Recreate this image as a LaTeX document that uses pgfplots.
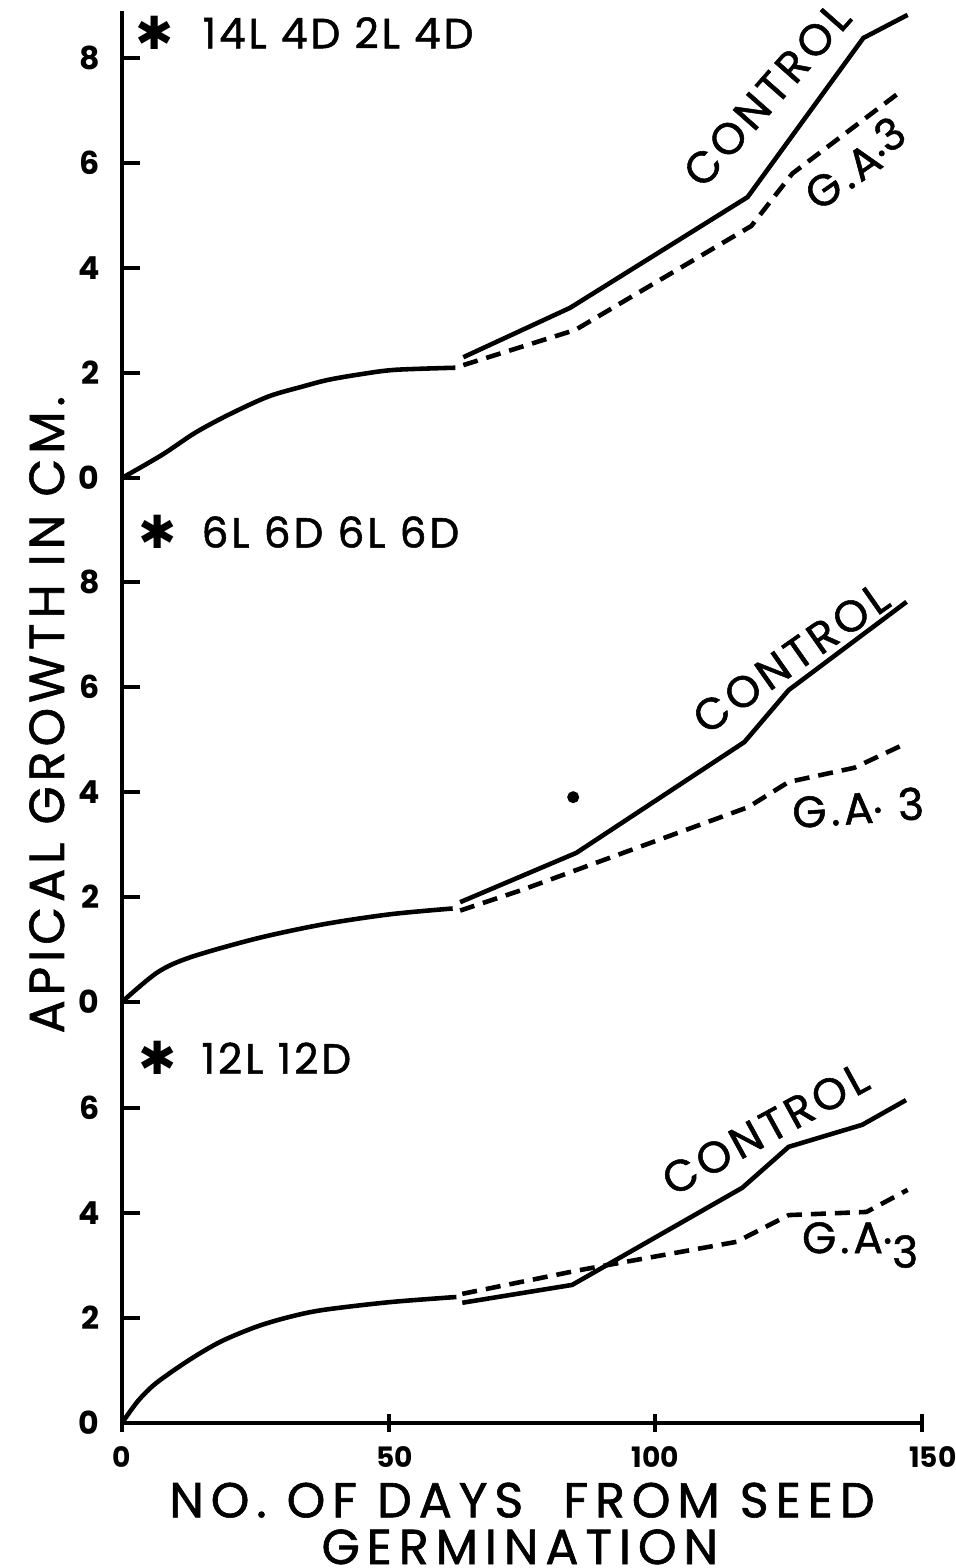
\documentclass[border=0pt]{standalone}
\usepackage{fontspec}
\setmainfont{Poppins}
\newfontfamily\lab{Poppins}[FakeBold=1.2]
\newfontfamily\dejavu{DejaVu Sans}
\usepackage{pgfplots}
\pgfplotsset{compat=1.18}

\pgfplotsset{
  panel/.style={
    x=0.53333mm, y=5.25mm,
    xmin=0, xmax=150,
    axis y line=left,
    clip=false,
    tick align=inside, major tick length=1.8mm,
    tick style={line width=1.2pt, black},
    /pgf/number format/assume math mode=true,
    yticklabel style={font=\fontsize{9}{10}\selectfont\bfseries, xshift=-1.0mm},
    xticklabel style={font=\fontsize{8}{9}\selectfont\bfseries, yshift=-0.2mm},
  },
}
\tikzset{
  ctrl/.style={black, line width=1.3pt},
  ga/.style={ctrl, dash pattern=on 1.5mm off 0.9mm},
  curvelab/.style={font=\lab\fontsize{12.5}{13}\selectfont\addfontfeatures{LetterSpace=9}},
  cond/.style={font=\lab\fontsize{12}{13}\selectfont\addfontfeatures{LetterSpace=7}, anchor=west, inner sep=0pt},
  star/.style={font=\dejavu\fontsize{13}{14}\selectfont},
  axlab/.style={inner sep=0pt, font=\lab\fontsize{14}{15}\selectfont\addfontfeatures{LetterSpace=#1}},
}

\begin{document}
\begin{tikzpicture}
\path[use as bounding box] (-12.2mm,-14.5mm) rectangle (83.4mm,142.3mm);

% bottom panel: 12L 12D
\begin{axis}[panel, at={(0,0)}, anchor=south west,
  ymin=0, ymax=8.02, ytick={0,2,4,6},
  axis x line=bottom, xtick={0,50,100,150},
  xticklabels={0,\hspace*{1.2mm}50,100,\hspace*{2.2mm}150},
  axis line style={-, line width=1.3pt}]
\addplot[ctrl, no markers, smooth] coordinates {(0,0) (3,0.42) (6.4,0.76) (12.6,1.2) (18.5,1.55) (25.1,1.83) (31,2.01) (37.5,2.15) (50,2.3) (62.7,2.4)};
\addplot[ctrl, no markers] coordinates {(63.8,2.29) (84.4,2.63) (116.3,4.48) (125,5.26) (138.8,5.68) (147,6.15)};
\addplot[ga, no markers] coordinates {(63.8,2.46) (85.7,2.91) (115.2,3.45) (125,3.96) (139.6,4.02) (147.3,4.44)};
\node[star] at (axis cs:6.6,6.95) {✱};
\node[cond] at (axis cs:14.8,6.95) {12L 12D};
\node[curvelab, rotate=28.7] at (axis cs:120.6,5.6) {CONTROL};
\node[curvelab] at (axis cs:138.4,3.39) {G.A\raisebox{0.4ex}{.}\raisebox{-0.6ex}{3}};
\node[axlab=14] at (axis cs:75,-1.47) {NO. OF DAYS\ \ FROM SEED};
\node[axlab=14] at (axis cs:74.6,-2.36) {GERMINATION};
\end{axis}

% middle panel: 6L 6D 6L 6D
\begin{axis}[panel, at={(0,42.105mm)}, anchor=south west,
  ymin=0, ymax=9.98, ytick={0,2,4,6,8},
  axis x line=none, axis line style={-, line width=1.3pt}]
\addplot[ctrl, no markers, smooth] coordinates {(0,0) (6.6,0.56) (12.8,0.85) (25.3,1.21) (37.8,1.48) (50.3,1.67) (62,1.78)};
\addplot[ctrl, no markers] coordinates {(63.4,1.9) (85.2,2.84) (116.7,4.95) (125,5.94) (147.1,7.62)};
\addplot[ga, no markers] coordinates {(63.4,1.74) (74.9,2.13) (117.4,3.71) (125,4.19) (137.3,4.46) (146.5,4.9)};
\addplot[black, only marks, mark=*, mark size=1.5pt] coordinates {(84.6,3.9)};
\node[star] at (axis cs:6.6,8.95) {✱};
\node[cond] at (axis cs:14.8,8.95) {6L 6D 6L 6D};
\node[curvelab, rotate=35] at (axis cs:125.4,6.55) {CONTROL};
\node[curvelab, rotate=4] at (axis cs:138,3.7) {G.A\raisebox{0.4ex}{.} 3};
\node[axlab=10, rotate=90] at (axis cs:-14.1,5.47) {APICAL GROWTH IN CM.};
\end{axis}

% top panel: 14L 4D 2L 4D
\begin{axis}[panel, at={(0,94.5mm)}, anchor=south west,
  ymin=0, ymax=8.9, ytick={0,2,4,6,8},
  axis x line=none, axis line style={-, line width=1.3pt}]
\addplot[ctrl, no markers, smooth] coordinates {(0,0) (7.5,0.44) (13.7,0.86) (19.9,1.2) (27.4,1.55) (33.8,1.74) (38.7,1.87) (45,1.98) (51.2,2.06) (62.5,2.1)};
\addplot[ctrl, no markers] coordinates {(64,2.3) (84,3.24) (117.3,5.35) (139,8.38) (147.3,8.82)};
\addplot[ga, no markers] coordinates {(64,2.15) (85,2.82) (118,4.8) (125.7,5.8) (145.6,7.33)};
\node[star] at (axis cs:6.2,8.48) {✱};
\node[cond] at (axis cs:15,8.48) {14L 4D 2L 4D};
\node[curvelab, rotate=48.6] at (axis cs:120.9,7.3) {CONTROL};
\node[curvelab, rotate=35] at (axis cs:137.4,6.0) {G.A\raisebox{0.4ex}{.}\raisebox{0.3ex}{3}};
\end{axis}
\end{tikzpicture}
\end{document}
